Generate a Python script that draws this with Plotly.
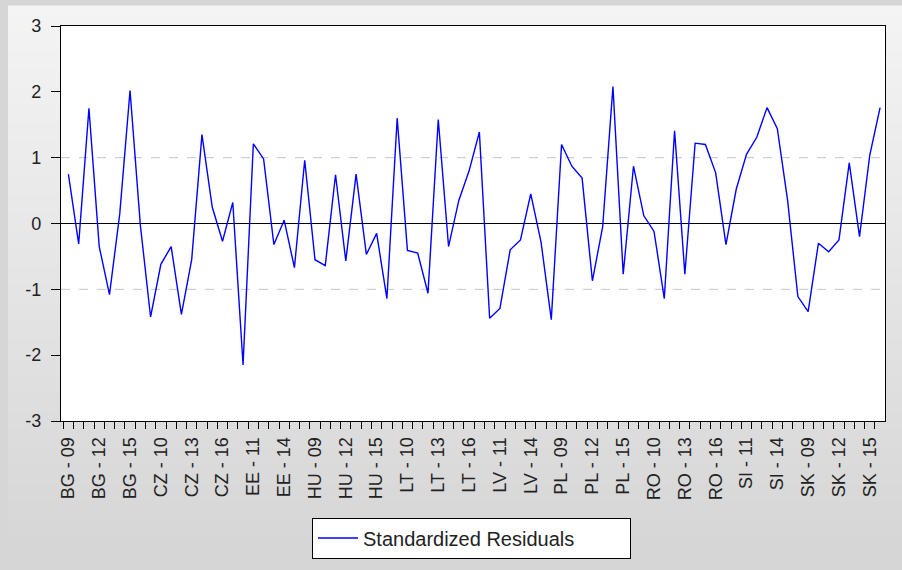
import plotly.graph_objects as go

countries = ["BG", "CZ", "EE", "HU", "LT", "LV", "PL", "RO", "SI", "SK"]
years = ["09", "10", "11", "12", "13", "14", "15", "16"]

residuals = [
    0.75, -0.31, 1.75, -0.35, -1.08, 0.15, 2.02, -0.02,   # BG
    -1.42, -0.62, -0.35, -1.38, -0.55, 1.35, 0.25, -0.27,  # CZ
    0.32, -2.15, 1.21, 0.98, -0.32, 0.05, -0.67, 0.96,     # EE
    -0.55, -0.64, 0.74, -0.57, 0.75, -0.47, -0.15, -1.14,  # HU
    1.60, -0.41, -0.45, -1.06, 1.58, -0.35, 0.35, 0.80,    # LT
    1.39, -1.44, -1.29, -0.40, -0.25, 0.45, -0.28, -1.46,  # LV
    1.20, 0.87, 0.69, -0.87, -0.05, 2.08, -0.77, 0.87,     # PL
    0.12, -0.12, -1.14, 1.41, -0.77, 1.22, 1.20, 0.77,     # RO
    -0.32, 0.52, 1.05, 1.31, 1.76, 1.44, 0.35, -1.11,      # SI
    -1.34, -0.30, -0.43, -0.25, 0.92, -0.20, 1.04, 1.76,   # SK
]

categories = [f"{c} - {y}" for c in countries for y in years]
x_tick_labels = [cat if i % 3 == 0 else "" for i, cat in enumerate(categories)]
y_tick_values = [3, 2, 1, 0, -1, -2, -3]
y_tick_labels = ["3", "2", "1", "0", "-1", "-2", "-3"]
series_name = "Standardized Residuals"

W, H = 902, 570
H_VIEW = 560            # height the page actually lays the figure out at
L, T, R = 61, 26, 17
B = H_VIEW - 431        # plot bottom edge at page y 431
pw, ph = W - L - R, H_VIEW - T - B


def px_x(px):
    return (px - L) / pw


def px_y(py):
    return (H_VIEW - B - py) / ph


shapes = []
# gradient panel background (white strip left/top like the reference)
n = 60
top_py, bot_py = 5, H_VIEW
left_px = 8
c_top, c_bot = 244, 214
for k in range(n):
    y0 = top_py + (bot_py - top_py) * k / n
    y1 = top_py + (bot_py - top_py) * (k + 1) / n + 0.6
    if k == n - 1:
        y1 = H + 12
    c = round(c_top + (c_bot - c_top) * (k + 0.5) / n)
    shapes.append(dict(type="rect", xref="paper", yref="paper",
                       x0=px_x(left_px), x1=px_x(W + 2), y0=px_y(y1), y1=px_y(y0),
                       fillcolor=f"rgb({c},{c},{c})", line=dict(width=0),
                       layer="below"))
# white plot area
shapes.append(dict(type="rect", xref="paper", yref="paper", x0=0, x1=1, y0=0, y1=1,
                   fillcolor="white", line=dict(width=0), layer="below"))
# dashed reference lines
for v in (1, -1):
    shapes.append(dict(type="line", xref="paper", yref="y", x0=0, x1=1, y0=v, y1=v,
                       line=dict(color="#c4c4c4", width=1, dash="dash"), layer="below"))
shapes.append(dict(type="line", xref="paper", yref="y", x0=0, x1=1, y0=0, y1=0,
                   line=dict(color="black", width=1.2), layer="below"))

fig = go.Figure()
fig.add_trace(go.Scatter(
    x=categories, y=residuals, mode="lines", name=series_name,
    line=dict(color="#0000ff", width=1.4), showlegend=True,
))

font_family = "Liberation Sans, Arial, sans-serif"
fig.update_layout(
    width=W, height=H, autosize=False,
    margin=dict(l=L, r=R, t=T, b=B, pad=0),
    paper_bgcolor="#d6d6d6", plot_bgcolor="white",
    shapes=shapes,
    showlegend=True,
    legend=dict(orientation="h", x=px_x(471.5), xanchor="center", y=px_y(530), yanchor="top",
                bgcolor="white", bordercolor="black", borderwidth=1,
                entrywidth=262, itemwidth=40,
                font=dict(family=font_family, size=20, color="#222222")),
    xaxis=dict(type="category", range=[-0.72, 79.48], tickmode="array",
               tickvals=categories, ticktext=x_tick_labels, tickangle=-90,
               tickson="boundaries", ticks="outside", ticklen=7, tickcolor="black",
               ticklabelstandoff=8,
               tickfont=dict(family=font_family, size=18, color="#222222"),
               showline=True, linecolor="black", linewidth=1.2, mirror=True,
               showgrid=False, zeroline=False, automargin=False),
    yaxis=dict(range=[-3, 3], tickmode="array", tickvals=y_tick_values,
               ticktext=y_tick_labels, ticks="outside", ticklen=9, tickcolor="black",
               ticklabelstandoff=6,
               tickfont=dict(family=font_family, size=18, color="#222222"),
               showline=True, linecolor="black", linewidth=1.2, mirror=True,
               showgrid=False, zeroline=False, automargin=False),
)

fig.write_html(
    "out.html",
    config={"responsive": False, "displayModeBar": False},
    post_script="document.body.style.margin='0';document.body.style.overflow='hidden';",
)
